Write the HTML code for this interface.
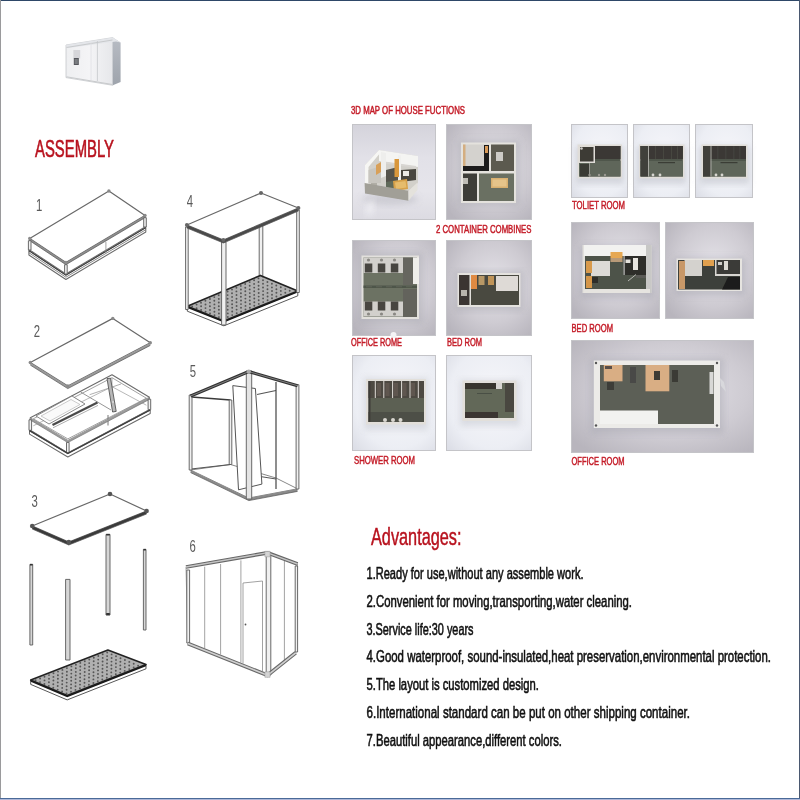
<!DOCTYPE html>
<html><head><meta charset="utf-8">
<style>
html,body{margin:0;padding:0;background:#fff;}
body{width:800px;height:800px;overflow:hidden;position:relative;font-family:"Liberation Sans",sans-serif;}
svg{position:absolute;left:0;top:0;display:block;will-change:transform;}
</style></head>
<body>
<svg width="800" height="800" viewBox="0 0 800 800">
<defs>
  <filter id="bl2" x="-10%" y="-10%" width="120%" height="120%"><feGaussianBlur stdDeviation="0.45"/></filter>
  <linearGradient id="hF" x1="0" y1="0" x2="1" y2="0">
    <stop offset="0" stop-color="#eeeff1"/><stop offset="0.5" stop-color="#f4f4f6"/><stop offset="1" stop-color="#e6e7ea"/>
  </linearGradient>
  <linearGradient id="hS" x1="0" y1="0" x2="0" y2="1">
    <stop offset="0" stop-color="#b8bcc4"/><stop offset="1" stop-color="#9ea4ac"/>
  </linearGradient>
  <filter id="sh" x="-30%" y="-30%" width="160%" height="160%"><feGaussianBlur stdDeviation="3"/></filter>
  <filter id="bl" x="-10%" y="-10%" width="120%" height="120%"><feGaussianBlur stdDeviation="0.6"/></filter>
  <pattern id="dots" x="0" y="0" width="5" height="5" patternUnits="userSpaceOnUse">
    <rect width="5" height="5" fill="#9c9c9c"/>
    <circle cx="2.5" cy="2.5" r="1" fill="#5a5a5a"/>
  </pattern>
  <linearGradient id="gP" x1="0" y1="0" x2="0" y2="1">
    <stop offset="0" stop-color="#d4d3db"/>
    <stop offset="0.35" stop-color="#e2e1e8"/>
    <stop offset="0.7" stop-color="#e6e5eb"/>
    <stop offset="1" stop-color="#dcdbe2"/>
  </linearGradient>
  <radialGradient id="gR" cx="0.55" cy="0.45" r="0.7">
    <stop offset="0" stop-color="#e4e2e8"/>
    <stop offset="0.6" stop-color="#cecbd2"/>
    <stop offset="1" stop-color="#b8b5bd"/>
  </radialGradient>
  <radialGradient id="gL" cx="0.55" cy="0.45" r="0.75">
    <stop offset="0" stop-color="#f6f6fa"/>
    <stop offset="0.7" stop-color="#eceef4"/>
    <stop offset="1" stop-color="#dcdee6"/>
  </radialGradient>
</defs>
<rect width="800" height="800" fill="#fff"/>

<!-- photos -->
<g stroke="#c4c4c8" stroke-width="1">
  <rect x="352.5" y="124.5" width="83" height="95" fill="url(#gP)"/>
  <rect x="446.5" y="124.5" width="85" height="95" fill="url(#gR)"/>
  <rect x="352.5" y="240.5" width="83" height="95" fill="url(#gR)"/>
  <rect x="446.5" y="240.5" width="85" height="95" fill="url(#gR)"/>
  <rect x="352.5" y="355.5" width="83" height="95" fill="url(#gL)"/>
  <rect x="446.5" y="355.5" width="85" height="95" fill="url(#gL)"/>
  <rect x="571.5" y="124.5" width="56" height="73" fill="url(#gL)"/>
  <rect x="633.5" y="124.5" width="56" height="73" fill="url(#gL)"/>
  <rect x="695.5" y="124.5" width="57" height="73" fill="url(#gL)"/>
  <rect x="571.5" y="222.5" width="88" height="96" fill="url(#gR)"/>
  <rect x="665.5" y="222.5" width="88" height="96" fill="url(#gR)"/>
  <rect x="571.5" y="340.5" width="182" height="112" fill="url(#gR)"/>
</g>
<g filter="url(#bl)">
<ellipse cx="390" cy="199" rx="28" ry="6" fill="#b8b8c0" opacity="0.5" filter="url(#sh)"/>
<polygon points="368,203 374,199 372,214 366,216" fill="#f4f4f8" opacity="0.8" filter="url(#sh)"/>
<polygon points="365,165 379,150 418,156 418,183 409,191 365,183" fill="#d2d0ca" />
<polygon points="379,150 418,156 418,167 379,161" fill="#f4f4f2" />
<polygon points="381,161 416,166 416,168 381,163" fill="#d8d6d2" />
<polygon points="365,165 379,150 381,152 368.5,167 368.5,188 365,188" fill="#f6f6f4" />
<polygon points="381,152 386,153 386,176 381,178" fill="#eeeeec" />
<polygon points="398,155 401,155.5 401,183 398,184" fill="#f0f0ee" />
<polygon points="368.5,170 381,166 381,183 368.5,183" fill="#c8c6c0" />
<polygon points="386,170 398,167 398,183 386,186" fill="#55534c" />
<polygon points="401,170 416,169 416,180 401,182" fill="#48463f" />
<polygon points="386,182 398,180 398,190 386,188" fill="#606a5a" />
<rect x="394.5" y="159" width="4.5" height="18.0" fill="#d9973a" />
<polygon points="376,165 381,162 381,172 376,175" fill="#d8a058" />
<polygon points="393,181 407,179 408,189 394,191" fill="#d6a048" />
<polygon points="395,182.5 405.5,181 406.5,187.5 396,189" fill="#e6bc6c" />
<rect x="403" y="171" width="6.0" height="5.0" fill="#ecebe6" />
<rect x="371" y="183" width="6.0" height="5.0" fill="#b0aea6" />
<polygon points="364.6,183 408.5,190.7 408.5,200.8 365,193.5" fill="#a19f97" />
<polygon points="408.5,190.7 417.5,182.5 417.5,190 408.5,200.8" fill="#e4e2dc" />
</g>
<g filter="url(#bl)">
<rect x="458" y="140" width="62" height="66" fill="#b4b4ba" opacity="0.5" filter="url(#sh)"/>
<rect x="461" y="142.5" width="55.0" height="60.5" fill="#e4e2dd" />
<rect x="463" y="144.5" width="26.0" height="26.5" fill="#d4d2ce" />
<rect x="463" y="144.5" width="2.5" height="26.5" fill="#d4ae80" />
<rect x="484" y="145" width="5.0" height="26.0" fill="#1c1c1c" />
<rect x="463" y="166" width="26.0" height="5.0" fill="#1c1c1c" />
<rect x="485" y="146" width="3.0" height="7.0" fill="#d89a58" />
<rect x="491" y="144.5" width="23.0" height="26.5" fill="#5c5a50" />
<rect x="496" y="152" width="7.0" height="9.0" fill="#cdcbc6" />
<rect x="463" y="173.5" width="14.0" height="27.5" fill="#3e3c38" />
<rect x="463" y="178" width="5.0" height="6.0" fill="#bfbdb6" />
<rect x="479" y="173.5" width="35.0" height="27.5" fill="#6a7062" />
<rect x="491" y="178" width="17.0" height="10.0" fill="#d9b070" />
<rect x="492.5" y="179.5" width="14.0" height="7.0" fill="#e6c48a" />
</g>
<g filter="url(#bl)">
<rect x="358" y="252" width="65" height="72" fill="#a8a8b0" opacity="0.45" filter="url(#sh)"/>
<rect x="361.5" y="255.5" width="57.5" height="63.5" fill="#e2e0dc" />
<rect x="363.5" y="257.5" width="53.5" height="59.5" fill="#6c7264" />
<rect x="403" y="257.5" width="10.0" height="27.5" fill="#66665e" />
<rect x="403" y="289" width="14.0" height="28.0" fill="#64645c" />
<rect x="363.5" y="257.5" width="39.5" height="15.5" fill="#d2d0cc" />
<rect x="363.5" y="301.5" width="39.5" height="15.0" fill="#d2d0cc" />
<rect x="364.8" y="263.5" width="7.5" height="9.0" fill="#46443f" />
<rect x="364.8" y="301.5" width="7.5" height="9.0" fill="#46443f" />
<circle cx="368.5" cy="260" r="1.6" fill="#8a8884"/>
<circle cx="368.5" cy="314" r="1.6" fill="#8a8884"/>
<rect x="377.8" y="263.5" width="7.5" height="9.0" fill="#46443f" />
<rect x="377.8" y="301.5" width="7.5" height="9.0" fill="#46443f" />
<circle cx="381.5" cy="260" r="1.6" fill="#8a8884"/>
<circle cx="381.5" cy="314" r="1.6" fill="#8a8884"/>
<rect x="390.8" y="263.5" width="7.5" height="9.0" fill="#46443f" />
<rect x="390.8" y="301.5" width="7.5" height="9.0" fill="#46443f" />
<circle cx="394.5" cy="260" r="1.6" fill="#8a8884"/>
<circle cx="394.5" cy="314" r="1.6" fill="#8a8884"/>
<rect x="413" y="257.5" width="6.0" height="26.5" fill="#efeeea" />
<rect x="363.5" y="285.5" width="53.5" height="2.5" fill="#4e5448" />
<rect x="366" y="286.2" width="6.0" height="1.1" fill="#5e6458" />
<rect x="376" y="286.2" width="6.0" height="1.1" fill="#5e6458" />
<rect x="386" y="286.2" width="6.0" height="1.1" fill="#5e6458" />
<rect x="396" y="286.2" width="6.0" height="1.1" fill="#5e6458" />
<rect x="406" y="286.2" width="6.0" height="1.1" fill="#5e6458" />
<circle cx="393.5" cy="335" r="3" fill="#f4f4f6"/>
</g>
<g filter="url(#bl)">
<rect x="455" y="271" width="68" height="40" fill="#a8a8b0" opacity="0.45" filter="url(#sh)"/>
<rect x="457.5" y="273" width="63.0" height="34.0" fill="#e4e2de" />
<rect x="459" y="275" width="60.0" height="30.0" fill="#4a4a40" />
<rect x="459" y="275" width="10.5" height="30.0" fill="#3a3632" />
<rect x="461" y="290" width="6.0" height="6.0" fill="#b8b4ac" />
<rect x="469.5" y="275" width="1.5" height="30.0" fill="#e0deda" />
<rect x="471" y="275" width="6.0" height="14.0" fill="#e08a42" />
<rect x="478.5" y="276" width="6.0" height="9.0" fill="#b89866" />
<rect x="488" y="276" width="6.0" height="9.0" fill="#c09458" />
<rect x="496" y="276" width="22.0" height="15.0" fill="#dedad6" />
</g>
<g filter="url(#bl)">
<rect x="364" y="378" width="64" height="52" fill="#c0c2ca" opacity="0.45" filter="url(#sh)"/>
<rect x="366" y="379" width="60.0" height="45.5" fill="#e2dfda" />
<rect x="368.5" y="381" width="55.5" height="41.0" fill="#5c6052" />
<rect x="368.5" y="381" width="55.5" height="17.0" fill="#4e4842" />
<rect x="368.5" y="412" width="55.5" height="10.0" fill="#4e5046" />
<rect x="368.5" y="381" width="2.0" height="41.0" fill="#3e3c38" />
<rect x="377" y="383" width="4.0" height="13.0" fill="#5e5650" />
<rect x="385.5" y="383" width="4.0" height="13.0" fill="#5e5650" />
<rect x="394" y="383" width="4.0" height="13.0" fill="#5e5650" />
<rect x="402.5" y="383" width="4.0" height="13.0" fill="#5e5650" />
<rect x="411" y="383" width="4.0" height="13.0" fill="#5e5650" />
<rect x="374.8" y="381" width="1.0" height="17.0" fill="#e0ddd8" />
<rect x="383.3" y="381" width="1.0" height="17.0" fill="#e0ddd8" />
<rect x="392.1" y="381" width="1.0" height="17.0" fill="#e0ddd8" />
<rect x="401.1" y="381" width="1.0" height="17.0" fill="#e0ddd8" />
<rect x="409.5" y="381" width="1.0" height="17.0" fill="#e0ddd8" />
<rect x="417.8" y="381" width="1.0" height="17.0" fill="#e0ddd8" />
<circle cx="385" cy="420" r="2" fill="#d8d6d0"/>
<circle cx="393" cy="420" r="2" fill="#d8d6d0"/>
<circle cx="400.5" cy="420" r="2" fill="#d8d6d0"/>
</g>
<g filter="url(#bl)">
<rect x="460" y="380" width="60" height="46" fill="#c0c2ca" opacity="0.45" filter="url(#sh)"/>
<rect x="462.5" y="380.5" width="54.0" height="40.5" fill="#e2dfda" />
<rect x="465" y="383" width="49.0" height="35.0" fill="#626858" />
<rect x="465" y="383" width="35.0" height="6.0" fill="#38342e" />
<rect x="465" y="412" width="33.0" height="6.0" fill="#3a3630" />
<rect x="505" y="383" width="9.0" height="29.0" fill="#4a4640" />
<rect x="496" y="383" width="6.0" height="6.0" fill="#d8d6d2" />
<rect x="477" y="393" width="15.0" height="1.0" fill="#4a5044" />
</g>
<g filter="url(#bl)">
<rect x="575.6" y="146" width="48.4" height="38" fill="#b8bac2" opacity="0.5" filter="url(#sh)"/>
<rect x="577.6" y="144.5" width="44.4" height="33.8" fill="#e0ddd8" />
<rect x="579.1" y="146" width="41.4" height="30.5" fill="#50564c" />
<rect x="579.1" y="146" width="41.4" height="13.0" fill="#3a3934" />
<rect x="579.1" y="161" width="41.4" height="15.5" fill="#5e665a" />
<rect x="637" y="146" width="49.4" height="38" fill="#b8bac2" opacity="0.5" filter="url(#sh)"/>
<rect x="639" y="144.5" width="45.4" height="33.8" fill="#e0ddd8" />
<rect x="640.5" y="146" width="42.4" height="30.5" fill="#50564c" />
<rect x="640.5" y="146" width="42.4" height="13.0" fill="#3a3934" />
<rect x="640.5" y="161" width="42.4" height="15.5" fill="#5e665a" />
<rect x="699.5" y="146" width="50.0" height="38" fill="#b8bac2" opacity="0.5" filter="url(#sh)"/>
<rect x="701.5" y="144.5" width="46.0" height="33.8" fill="#e0ddd8" />
<rect x="703.0" y="146" width="43.0" height="30.5" fill="#50564c" />
<rect x="703.0" y="146" width="43.0" height="13.0" fill="#3a3934" />
<rect x="703.0" y="161" width="43.0" height="15.5" fill="#5e665a" />
<rect x="640.5" y="146" width="7.5" height="30.5" fill="#403f3a" />
<rect x="648" y="146" width="1.0" height="30.5" fill="#a8a8a2" />
<rect x="658" y="162" width="17.0" height="1.2" fill="#3a3c36" />
<rect x="655" y="146" width="0.8" height="13.0" fill="#4a4a44" />
<rect x="663" y="146" width="0.8" height="13.0" fill="#4a4a44" />
<rect x="671" y="146" width="0.8" height="13.0" fill="#4a4a44" />
<rect x="677" y="146" width="0.8" height="13.0" fill="#4a4a44" />
<rect x="703.0" y="146" width="7.5" height="30.5" fill="#403f3a" />
<rect x="710.5" y="146" width="1.0" height="30.5" fill="#a8a8a2" />
<rect x="720.5" y="162" width="17.0" height="1.2" fill="#3a3c36" />
<rect x="717.5" y="146" width="0.8" height="13.0" fill="#4a4a44" />
<rect x="725.5" y="146" width="0.8" height="13.0" fill="#4a4a44" />
<rect x="733.5" y="146" width="0.8" height="13.0" fill="#4a4a44" />
<rect x="739.5" y="146" width="0.8" height="13.0" fill="#4a4a44" />
<rect x="579" y="146" width="16.0" height="17.0" fill="#e0ddd8" />
<rect x="580" y="147" width="13.5" height="14.5" fill="#3c3a36" />
<rect x="580" y="164" width="9.0" height="12.5" fill="#3a3a36" />
<rect x="589" y="163" width="1.0" height="13.5" fill="#9a9a94" />
<circle cx="581.5" cy="148.5" r="1.3" fill="#cfcdc8"/>
<circle cx="653" cy="175" r="1.4" fill="#d8d6d0"/>
<circle cx="660" cy="175" r="1.4" fill="#d8d6d0"/>
<circle cx="716" cy="175" r="1.4" fill="#d8d6d0"/>
<circle cx="722" cy="175" r="1.4" fill="#d8d6d0"/>
<circle cx="589.5" cy="175" r="1.2" fill="#9a9890"/>
<circle cx="599" cy="175" r="1.2" fill="#9a9890"/>
<circle cx="605" cy="175" r="1.2" fill="#9a9890"/>
</g>
<g filter="url(#bl)">
<rect x="580" y="246" width="74" height="52" fill="#a8a8b2" opacity="0.5" filter="url(#sh)"/>
<rect x="582.5" y="245" width="69.0" height="48.0" fill="#e2e0dc" />
<rect x="585" y="256" width="63.0" height="33.0" fill="#4e5248" />
<rect x="584" y="245" width="66.0" height="11.0" fill="#f2f2f0" />
<rect x="646" y="245" width="5.5" height="48.0" fill="#c8c8c6" />
<rect x="591" y="261" width="19.0" height="15.0" fill="#dcdad6" />
<rect x="610.5" y="252" width="12.0" height="6.0" fill="#e6a852" />
<rect x="610.5" y="258" width="12.0" height="4.0" fill="#b89a78" />
<rect x="586" y="261" width="6.0" height="12.0" fill="#d89a4c" />
<rect x="586" y="276" width="6.0" height="12.0" fill="#d4964a" />
<rect x="592" y="277" width="6.0" height="6.0" fill="#2e2e2c" />
<rect x="623.6" y="256" width="22.4" height="19.0" fill="#2e2e2c" />
<rect x="623.6" y="256" width="1.0" height="19.0" fill="#d8d8d6" />
<rect x="625.5" y="259.5" width="5.0" height="3.5" fill="#e4e2dc" />
<rect x="633" y="258" width="5.0" height="12.0" fill="#e8e6e0" />
<line x1="628" y1="281" x2="636" y2="274.5" stroke="#b8b8b4" stroke-width="1"/>
<rect x="636" y="275" width="10.0" height="3.0" fill="#5a5a56" />
<rect x="584" y="289" width="66.0" height="4.0" fill="#e6e4e0" />
<rect x="674" y="258" width="71" height="37" fill="#a8a8b2" opacity="0.5" filter="url(#sh)"/>
<rect x="676.5" y="258.5" width="65.5" height="32.5" fill="#e6e4e0" />
<rect x="678" y="260" width="62.0" height="29.5" fill="#3e403a" />
<rect x="684.5" y="260" width="17.5" height="16.0" fill="#d4d2ce" />
<rect x="703" y="260" width="11.0" height="6.0" fill="#e0a050" />
<rect x="679" y="261" width="6.0" height="28.0" fill="#c89868" />
<rect x="716" y="260" width="24.0" height="14.0" fill="#3a3a38" />
<rect x="716" y="274" width="24.0" height="2.0" fill="#d8d6d2" />
<rect x="715" y="260" width="1.5" height="16.0" fill="#d8d6d2" />
<rect x="724" y="261" width="4.0" height="9.0" fill="#dcdad4" />
<rect x="718" y="262" width="4.0" height="3.0" fill="#cfcdc8" />
<polygon points="722,289.5 728,277 740,277 740,289.5" fill="#1e1e1c" />
</g>
<g filter="url(#bl)">
<rect x="590" y="358" width="134" height="76" fill="#a8a8b2" opacity="0.45" filter="url(#sh)"/>
<rect x="593.8" y="360.5" width="126.2" height="67.5" fill="#ecebe8" />
<rect x="600" y="365" width="114.0" height="59.0" fill="#5c5e56" />
<rect x="600" y="410.5" width="58.0" height="13.5" fill="#f2f2f0" />
<rect x="603.8" y="365" width="18.7" height="16.3" fill="#d9ae84" />
<rect x="645.5" y="365" width="23.8" height="26.3" fill="#d9ae84" />
<rect x="654" y="371" width="6.0" height="9.0" fill="#3c3a36" />
<rect x="607" y="382" width="7.0" height="8.0" fill="#3e3c38" />
<rect x="630" y="367" width="6.0" height="16.0" fill="#4a4a46" />
<rect x="672" y="370" width="6.0" height="12.0" fill="#3a3a36" />
<rect x="709.5" y="372" width="4.0" height="22.0" fill="#d8d8d6" />
<polygon points="720,378 724,382 726,392 721,386" fill="#d8d8dc"/>
<rect x="605" y="366" width="7.0" height="3.0" fill="#5a5048" />
</g>
<g fill="#555">
<circle cx="596" cy="363" r="1.2"/>
<circle cx="717" cy="363" r="1.2"/>
<circle cx="596" cy="425.5" r="1.2"/>
<circle cx="717" cy="425.5" r="1.2"/>
</g>


<!-- house icon -->
<g filter="url(#bl2)">
  <polygon points="66,45 112.8,37.6 112.8,85.3 66,77.6" fill="url(#hF)" stroke="#c4c6ca" stroke-width="0.8"/>
  <polygon points="112.8,37.6 120.6,42.6 120.6,82 112.8,85.3" fill="url(#hS)"/>
  <polygon points="66,45 112.8,37.6 120.6,42.6 116,41.5 68,48" fill="#e4e6ea"/>
  <polyline points="66.5,47.5 112.5,40" fill="none" stroke="#c8cacc" stroke-width="1"/>
  <rect x="73.4" y="50" width="6.8" height="8.5" fill="#d6d6da"/>
  <rect x="73.8" y="58" width="5" height="7" fill="#55575c"/>
  <rect x="74.6" y="59" width="3.2" height="5" fill="#7a7c80"/>
  <line x1="97.4" y1="41" x2="97.4" y2="81" stroke="#c4c6ca" stroke-width="0.8"/>
  <line x1="91" y1="42" x2="91" y2="80" stroke="#e0e0e4" stroke-width="0.8"/>
  <line x1="66.5" y1="76.8" x2="112.5" y2="84.5" stroke="#c8cacc" stroke-width="1"/>
</g>

<!-- assembly drawings -->
<g stroke-linejoin="round">
<polygon points="28.9,250.5 65.9,275.0 145.8,227.5 145.8,232.0 65.9,279.5 28.9,255.0" fill="#fff" stroke="#6a6a6a" stroke-width="1.05"/>
<polyline points="28.9,250.5 65.9,275.0 145.8,227.5" fill="none" stroke="#3c3c3c" stroke-width="1.4"/>
<polyline points="28.9,252.7 65.9,277.2 145.8,229.7" fill="none" stroke="#6a6a6a" stroke-width="0.8"/>
<polygon points="29.7,238.5 65.9,262.5 145.0,215.5 145.0,227.0 65.9,274.0 29.7,250.0" fill="#fff" stroke="#6a6a6a" stroke-width="1.05"/>
<polygon points="29.7,238.5 108.9,191.0 145.0,215.5 65.9,262.5" fill="#fff" stroke="#686868" stroke-width="1.2"/>
<polygon points="29.7,238.5 65.9,262.5 145.0,215.5 145.0,217.7 65.9,264.7 29.7,240.7" fill="#8e8e8e"/>
<polyline points="29.7,240.7 65.9,264.7 145.0,217.7" fill="none" stroke="#555" stroke-width="0.7"/>
<circle cx="29.7" cy="238.5" r="1.7" fill="#8a8a8a"/>
<circle cx="108.9" cy="191.0" r="1.7" fill="#8a8a8a"/>
<circle cx="145.0" cy="215.5" r="1.7" fill="#8a8a8a"/>
<circle cx="65.9" cy="262.5" r="1.7" fill="#8a8a8a"/>
<rect x="28.4" y="240.7" width="2.6" height="9.3" fill="#f0f0f0" stroke="#626262" stroke-width="0.95"/>
<rect x="64.6" y="264.7" width="2.6" height="9.3" fill="#f0f0f0" stroke="#626262" stroke-width="0.95"/>
<rect x="143.7" y="217.7" width="2.6" height="9.3" fill="#f0f0f0" stroke="#626262" stroke-width="0.95"/>
<line x1="105.9" y1="241.8" x2="105.9" y2="253" stroke="#8a8a8a" stroke-width="0.8"/>
<rect x="259.2" y="205.0" width="3.6" height="71.5" fill="#f0f0f0" stroke="#626262" stroke-width="0.95"/>
<polygon points="187.3,306.3 223.9,320.9 297.8,290.9 297.8,295.8 223.9,325.8 187.3,311.2" fill="#fff" stroke="#444" stroke-width="0.9"/>
<clipPath id="fc1"><polygon points="187.3,306.3 260.4,275.4 297.8,290.9 223.9,320.9"/></clipPath>
<polygon points="187.3,306.3 260.4,275.4 297.8,290.9 223.9,320.9" fill="#b0b0b0"/>
<g fill="#555" clip-path="url(#fc1)"><circle cx="192.2" cy="306.4" r="0.95"/><circle cx="196.6" cy="308.2" r="0.95"/><circle cx="201.1" cy="310.0" r="0.95"/><circle cx="205.6" cy="311.8" r="0.95"/><circle cx="210.0" cy="313.5" r="0.95"/><circle cx="214.5" cy="315.3" r="0.95"/><circle cx="218.9" cy="317.1" r="0.95"/><circle cx="223.4" cy="318.9" r="0.95"/><circle cx="196.6" cy="304.6" r="0.95"/><circle cx="201.1" cy="306.3" r="0.95"/><circle cx="205.5" cy="308.1" r="0.95"/><circle cx="210.0" cy="309.9" r="0.95"/><circle cx="214.4" cy="311.7" r="0.95"/><circle cx="218.9" cy="313.5" r="0.95"/><circle cx="223.4" cy="315.2" r="0.95"/><circle cx="227.8" cy="317.0" r="0.95"/><circle cx="201.0" cy="302.7" r="0.95"/><circle cx="205.5" cy="304.5" r="0.95"/><circle cx="209.9" cy="306.3" r="0.95"/><circle cx="214.4" cy="308.0" r="0.95"/><circle cx="218.9" cy="309.8" r="0.95"/><circle cx="223.3" cy="311.6" r="0.95"/><circle cx="227.8" cy="313.4" r="0.95"/><circle cx="232.2" cy="315.1" r="0.95"/><circle cx="205.4" cy="300.8" r="0.95"/><circle cx="209.9" cy="302.6" r="0.95"/><circle cx="214.4" cy="304.4" r="0.95"/><circle cx="218.8" cy="306.2" r="0.95"/><circle cx="223.3" cy="307.9" r="0.95"/><circle cx="227.7" cy="309.7" r="0.95"/><circle cx="232.2" cy="311.5" r="0.95"/><circle cx="236.7" cy="313.3" r="0.95"/><circle cx="209.9" cy="299.0" r="0.95"/><circle cx="214.3" cy="300.7" r="0.95"/><circle cx="218.8" cy="302.5" r="0.95"/><circle cx="223.2" cy="304.3" r="0.95"/><circle cx="227.7" cy="306.1" r="0.95"/><circle cx="232.2" cy="307.8" r="0.95"/><circle cx="236.6" cy="309.6" r="0.95"/><circle cx="241.1" cy="311.4" r="0.95"/><circle cx="214.3" cy="297.1" r="0.95"/><circle cx="218.8" cy="298.9" r="0.95"/><circle cx="223.2" cy="300.6" r="0.95"/><circle cx="227.7" cy="302.4" r="0.95"/><circle cx="232.1" cy="304.2" r="0.95"/><circle cx="236.6" cy="306.0" r="0.95"/><circle cx="241.0" cy="307.8" r="0.95"/><circle cx="245.5" cy="309.5" r="0.95"/><circle cx="218.7" cy="295.2" r="0.95"/><circle cx="223.2" cy="297.0" r="0.95"/><circle cx="227.6" cy="298.8" r="0.95"/><circle cx="232.1" cy="300.6" r="0.95"/><circle cx="236.5" cy="302.3" r="0.95"/><circle cx="241.0" cy="304.1" r="0.95"/><circle cx="245.5" cy="305.9" r="0.95"/><circle cx="249.9" cy="307.7" r="0.95"/><circle cx="223.1" cy="293.4" r="0.95"/><circle cx="227.6" cy="295.1" r="0.95"/><circle cx="232.1" cy="296.9" r="0.95"/><circle cx="236.5" cy="298.7" r="0.95"/><circle cx="241.0" cy="300.5" r="0.95"/><circle cx="245.4" cy="302.2" r="0.95"/><circle cx="249.9" cy="304.0" r="0.95"/><circle cx="254.3" cy="305.8" r="0.95"/><circle cx="227.6" cy="291.5" r="0.95"/><circle cx="232.0" cy="293.3" r="0.95"/><circle cx="236.5" cy="295.0" r="0.95"/><circle cx="240.9" cy="296.8" r="0.95"/><circle cx="245.4" cy="298.6" r="0.95"/><circle cx="249.8" cy="300.4" r="0.95"/><circle cx="254.3" cy="302.2" r="0.95"/><circle cx="258.8" cy="303.9" r="0.95"/><circle cx="232.0" cy="289.6" r="0.95"/><circle cx="236.4" cy="291.4" r="0.95"/><circle cx="240.9" cy="293.2" r="0.95"/><circle cx="245.4" cy="294.9" r="0.95"/><circle cx="249.8" cy="296.7" r="0.95"/><circle cx="254.3" cy="298.5" r="0.95"/><circle cx="258.7" cy="300.3" r="0.95"/><circle cx="263.2" cy="302.1" r="0.95"/><circle cx="236.4" cy="287.7" r="0.95"/><circle cx="240.9" cy="289.5" r="0.95"/><circle cx="245.3" cy="291.3" r="0.95"/><circle cx="249.8" cy="293.1" r="0.95"/><circle cx="254.2" cy="294.9" r="0.95"/><circle cx="258.7" cy="296.6" r="0.95"/><circle cx="263.1" cy="298.4" r="0.95"/><circle cx="267.6" cy="300.2" r="0.95"/><circle cx="240.8" cy="285.9" r="0.95"/><circle cx="245.3" cy="287.7" r="0.95"/><circle cx="249.7" cy="289.4" r="0.95"/><circle cx="254.2" cy="291.2" r="0.95"/><circle cx="258.7" cy="293.0" r="0.95"/><circle cx="263.1" cy="294.8" r="0.95"/><circle cx="267.6" cy="296.5" r="0.95"/><circle cx="272.0" cy="298.3" r="0.95"/><circle cx="245.2" cy="284.0" r="0.95"/><circle cx="249.7" cy="285.8" r="0.95"/><circle cx="254.2" cy="287.6" r="0.95"/><circle cx="258.6" cy="289.3" r="0.95"/><circle cx="263.1" cy="291.1" r="0.95"/><circle cx="267.5" cy="292.9" r="0.95"/><circle cx="272.0" cy="294.7" r="0.95"/><circle cx="276.4" cy="296.5" r="0.95"/><circle cx="249.7" cy="282.1" r="0.95"/><circle cx="254.1" cy="283.9" r="0.95"/><circle cx="258.6" cy="285.7" r="0.95"/><circle cx="263.0" cy="287.5" r="0.95"/><circle cx="267.5" cy="289.3" r="0.95"/><circle cx="272.0" cy="291.0" r="0.95"/><circle cx="276.4" cy="292.8" r="0.95"/><circle cx="280.9" cy="294.6" r="0.95"/><circle cx="254.1" cy="280.3" r="0.95"/><circle cx="258.5" cy="282.0" r="0.95"/><circle cx="263.0" cy="283.8" r="0.95"/><circle cx="267.5" cy="285.6" r="0.95"/><circle cx="271.9" cy="287.4" r="0.95"/><circle cx="276.4" cy="289.2" r="0.95"/><circle cx="280.8" cy="290.9" r="0.95"/><circle cx="285.3" cy="292.7" r="0.95"/><circle cx="258.5" cy="278.4" r="0.95"/><circle cx="263.0" cy="280.2" r="0.95"/><circle cx="267.4" cy="282.0" r="0.95"/><circle cx="271.9" cy="283.7" r="0.95"/><circle cx="276.3" cy="285.5" r="0.95"/><circle cx="280.8" cy="287.3" r="0.95"/><circle cx="285.3" cy="289.1" r="0.95"/><circle cx="289.7" cy="290.8" r="0.95"/><circle cx="262.9" cy="276.5" r="0.95"/><circle cx="267.4" cy="278.3" r="0.95"/><circle cx="271.8" cy="280.1" r="0.95"/><circle cx="276.3" cy="281.9" r="0.95"/><circle cx="280.8" cy="283.6" r="0.95"/><circle cx="285.2" cy="285.4" r="0.95"/><circle cx="289.7" cy="287.2" r="0.95"/><circle cx="294.1" cy="289.0" r="0.95"/></g>
<polygon points="187.3,306.3 260.4,275.4 297.8,290.9 223.9,320.9" fill="none" stroke="#222" stroke-width="1.6" stroke-linejoin="round"/>
<polygon points="187.3,306.3 223.9,320.9 297.8,290.9 297.8,292.5 223.9,322.5 187.3,307.9" fill="#1a1a1a"/>
<rect x="185.6" y="227.0" width="2.6" height="82.5" fill="#f0f0f0" stroke="#626262" stroke-width="0.95"/>
<rect x="296.7" y="210.0" width="2.6" height="82.5" fill="#f0f0f0" stroke="#626262" stroke-width="0.95"/>
<rect x="221.6" y="242.0" width="4.4" height="83.0" fill="#f0f0f0" stroke="#626262" stroke-width="0.95"/>
<polygon points="186.9,225.0 261.0,193.0 298.4,208.0 223.4,240.0" fill="#fff" stroke="#686868" stroke-width="1.2"/>
<polygon points="186.9,225.0 223.4,240.0 298.4,208.0 298.4,211.0 223.4,243.0 186.9,228.0" fill="#4a4a4a"/>
<polyline points="186.9,228.0 223.4,243.0 298.4,211.0" fill="none" stroke="#555" stroke-width="0.7"/>
<circle cx="186.9" cy="225.0" r="2.0" fill="#666"/>
<circle cx="261.0" cy="193.0" r="2.0" fill="#666"/>
<circle cx="298.4" cy="208.0" r="2.0" fill="#666"/>
<circle cx="223.4" cy="240.0" r="2.0" fill="#666"/>
<polygon points="30.3,417.8 112.0,374.7 149.4,397.2 149.4,409.7 67.8,452.9 30.3,430.3" fill="#fff" stroke="#6a6a6a" stroke-width="1.05"/>
<polygon points="33.3,418.8 112.0,377.7 146.4,398.2 67.8,438.9" fill="#fff" stroke="#8a8a8a" stroke-width="0.8"/>
<polyline points="33.3,425.8 112.0,386.7 146.4,405.2" fill="none" stroke="#9a9a9a" stroke-width="0.7"/>
<line x1="112.0" y1="377.7" x2="112.0" y2="386.7" stroke="#9a9a9a" stroke-width="0.7"/>
<polyline points="80.6,392 111,410" fill="none" stroke="#8a8a8a" stroke-width="0.9"/>
<polyline points="89.6,394.7 121,384" fill="none" stroke="#9a9a9a" stroke-width="0.8"/>
<polygon points="36,416 72,396 85,404 49,424" fill="#fff" stroke="#7a7a7a" stroke-width="0.9"/>
<polygon points="41,416 71,399.5 80,404.5 50,421" fill="#fafafa" stroke="#aaa" stroke-width="0.6"/>
<line x1="52.5" y1="425" x2="97.5" y2="402.6" stroke="#4a4a4a" stroke-width="2.2"/>
<line x1="53" y1="427.8" x2="98" y2="405.4" stroke="#999" stroke-width="0.8"/>
<polygon points="107,378.6 110.5,378.2 116.2,411.4 112.6,412" fill="#b8b8b8" stroke="#555" stroke-width="0.9"/>
<circle cx="113" cy="402" r="0.7" fill="#fff"/>
<line x1="108" y1="415" x2="108" y2="425.5" stroke="#777" stroke-width="1"/>
<polygon points="30.3,417.8 67.8,440.4 149.4,397.2 149.4,409.7 67.8,452.9 30.3,430.3" fill="none" stroke="#7a7a7a" stroke-width="0.8"/>
<polygon points="30.3,417.8 67.8,440.4 149.4,397.2 149.4,399.4 67.8,442.6 30.3,420.0" fill="#9a9a9a"/>
<polyline points="30.3,420.0 67.8,442.6 149.4,399.4" fill="none" stroke="#777" stroke-width="0.7"/>
<rect x="29.0" y="419.8" width="2.6" height="10.5" fill="#f0f0f0" stroke="#626262" stroke-width="0.95"/>
<rect x="66.5" y="442.4" width="2.6" height="10.5" fill="#f0f0f0" stroke="#626262" stroke-width="0.95"/>
<rect x="148.1" y="399.2" width="2.6" height="10.5" fill="#f0f0f0" stroke="#626262" stroke-width="0.95"/>
<polygon points="29.5,430.6 67.8,453.5 150.2,410.0 150.2,413.5 67.8,457.0 29.5,434.1" fill="#fff" stroke="#6a6a6a" stroke-width="1.05"/>
<polyline points="29.5,430.6 67.8,453.5 150.2,410.0" fill="none" stroke="#3c3c3c" stroke-width="1.3"/>
<polygon points="30.3,362.5 112.8,318.4 150.3,342.8 67.8,386.0" fill="#fff" stroke="#686868" stroke-width="1.2"/>
<polygon points="30.3,362.5 67.8,386.0 150.3,342.8 150.3,345.4 67.8,388.6 30.3,365.1" fill="#9a9a9a"/>
<polyline points="30.3,365.1 67.8,388.6 150.3,345.4" fill="none" stroke="#555" stroke-width="0.7"/>
<circle cx="30.3" cy="362.5" r="1.7" fill="#8a8a8a"/>
<circle cx="112.8" cy="318.4" r="1.7" fill="#8a8a8a"/>
<circle cx="150.3" cy="342.8" r="1.7" fill="#8a8a8a"/>
<circle cx="67.8" cy="386.0" r="1.7" fill="#8a8a8a"/>
<polygon points="190.6,470.0 230.5,464.5 276.0,478.0 297.5,488.8 248.8,498.0" fill="#fff" stroke="#6a6a6a" stroke-width="0.8"/>
<polygon points="190.6,470.0 248.8,498.0 297.5,488.8 297.5,491.4 248.8,500.6 190.6,472.6" fill="#8a8a8a"/>
<polyline points="190.6,472.6 248.8,500.6 297.5,491.4" fill="none" stroke="#555" stroke-width="0.7"/>
<polyline points="191.6,397.0 230.5,400.0" fill="none" stroke="#3a3a3a" stroke-width="1.4"/>
<rect x="229.2" y="400.0" width="2.6" height="64.5" fill="#f0f0f0" stroke="#626262" stroke-width="0.95"/>
<line x1="230.5" y1="464.5" x2="191" y2="469" stroke="#555" stroke-width="1"/>
<line x1="257" y1="394.5" x2="276" y2="390.5" stroke="#555" stroke-width="1.1"/>
<line x1="276" y1="382" x2="276" y2="489" stroke="#444" stroke-width="1.2"/>
<line x1="257" y1="476" x2="276" y2="479" stroke="#555" stroke-width="1"/>
<polygon points="232.8,385.6 255.4,388.5 261.9,484.1 238.5,489.8" fill="#fff" stroke="#555" stroke-width="1"/>
<rect x="189.2" y="395.0" width="2.8" height="75.0" fill="#f0f0f0" stroke="#626262" stroke-width="0.95"/>
<rect x="296.1" y="384.7" width="2.8" height="104.3" fill="#f0f0f0" stroke="#626262" stroke-width="0.95"/>
<rect x="246.3" y="371.0" width="5.4" height="128.0" fill="#e4e4e4" stroke="#626262" stroke-width="0.95"/>
<polyline points="190.6,396.0 248.8,371.6 297.5,385.7" fill="none" stroke="#333" stroke-width="3.2"/>
<polyline points="190.6,396.0 248.8,371.6 297.5,385.7" fill="none" stroke="#8a8a8a" stroke-width="0.9"/>
<circle cx="248.8" cy="371.6" r="2.2" fill="#aaa"/>
<rect x="29.9" y="564.4" width="2.8" height="80.6" fill="#d6d6d6" stroke="#626262" stroke-width="0.95"/>
<rect x="65.6" y="579.4" width="4.4" height="80.6" fill="#d6d6d6" stroke="#626262" stroke-width="0.95"/>
<rect x="106.0" y="534.4" width="4.0" height="80.6" fill="#d6d6d6" stroke="#626262" stroke-width="0.95"/>
<rect x="143.4" y="549.4" width="2.6" height="80.6" fill="#d6d6d6" stroke="#626262" stroke-width="0.95"/>
<rect x="30.0" y="563.9" width="2.6" height="1.6" fill="#333"/>
<rect x="106.2" y="533.9" width="3.6" height="1.6" fill="#333"/>
<rect x="143.5" y="548.9" width="2.4" height="1.6" fill="#333"/>
<rect x="106.2" y="613" width="3.6" height="2.2" fill="#333"/>
<polygon points="32.2,526.0 110.0,494.0 146.6,511.0 68.8,542.0" fill="#fff" stroke="#686868" stroke-width="1.2"/>
<polygon points="32.2,526.0 68.8,542.0 146.6,511.0 146.6,514.0 68.8,545.0 32.2,529.0" fill="#3a3a3a"/>
<polyline points="32.2,529.0 68.8,545.0 146.6,514.0" fill="none" stroke="#555" stroke-width="0.7"/>
<circle cx="32.2" cy="526.0" r="2.3" fill="#555"/>
<circle cx="110.0" cy="494.0" r="2.3" fill="#555"/>
<circle cx="146.6" cy="511.0" r="2.3" fill="#555"/>
<circle cx="68.8" cy="542.0" r="2.3" fill="#555"/>
<polygon points="30.7,680.0 67.2,695.5 146.0,664.4 146.0,668.8 67.2,699.9 30.7,684.4" fill="#fff" stroke="#444" stroke-width="0.9"/>
<clipPath id="fc2"><polygon points="30.7,680.0 107.9,650.1 146.0,664.4 67.2,695.5"/></clipPath>
<polygon points="30.7,680.0 107.9,650.1 146.0,664.4 67.2,695.5" fill="#b0b0b0"/>
<g fill="#555" clip-path="url(#fc2)"><circle cx="35.6" cy="680.3" r="0.95"/><circle cx="40.0" cy="682.1" r="0.95"/><circle cx="44.4" cy="684.0" r="0.95"/><circle cx="48.8" cy="685.9" r="0.95"/><circle cx="53.3" cy="687.8" r="0.95"/><circle cx="57.7" cy="689.6" r="0.95"/><circle cx="62.1" cy="691.5" r="0.95"/><circle cx="66.5" cy="693.4" r="0.95"/><circle cx="40.1" cy="678.5" r="0.95"/><circle cx="44.5" cy="680.4" r="0.95"/><circle cx="48.9" cy="682.3" r="0.95"/><circle cx="53.3" cy="684.2" r="0.95"/><circle cx="57.7" cy="686.0" r="0.95"/><circle cx="62.2" cy="687.9" r="0.95"/><circle cx="66.6" cy="689.8" r="0.95"/><circle cx="71.0" cy="691.7" r="0.95"/><circle cx="44.5" cy="676.8" r="0.95"/><circle cx="49.0" cy="678.7" r="0.95"/><circle cx="53.4" cy="680.5" r="0.95"/><circle cx="57.8" cy="682.4" r="0.95"/><circle cx="62.2" cy="684.3" r="0.95"/><circle cx="66.6" cy="686.2" r="0.95"/><circle cx="71.0" cy="688.0" r="0.95"/><circle cx="75.5" cy="689.9" r="0.95"/><circle cx="49.0" cy="675.1" r="0.95"/><circle cx="53.4" cy="676.9" r="0.95"/><circle cx="57.9" cy="678.8" r="0.95"/><circle cx="62.3" cy="680.7" r="0.95"/><circle cx="66.7" cy="682.6" r="0.95"/><circle cx="71.1" cy="684.4" r="0.95"/><circle cx="75.5" cy="686.3" r="0.95"/><circle cx="79.9" cy="688.2" r="0.95"/><circle cx="53.5" cy="673.3" r="0.95"/><circle cx="57.9" cy="675.2" r="0.95"/><circle cx="62.3" cy="677.1" r="0.95"/><circle cx="66.7" cy="679.0" r="0.95"/><circle cx="71.2" cy="680.8" r="0.95"/><circle cx="75.6" cy="682.7" r="0.95"/><circle cx="80.0" cy="684.6" r="0.95"/><circle cx="84.4" cy="686.5" r="0.95"/><circle cx="58.0" cy="671.6" r="0.95"/><circle cx="62.4" cy="673.5" r="0.95"/><circle cx="66.8" cy="675.3" r="0.95"/><circle cx="71.2" cy="677.2" r="0.95"/><circle cx="75.6" cy="679.1" r="0.95"/><circle cx="80.1" cy="681.0" r="0.95"/><circle cx="84.5" cy="682.8" r="0.95"/><circle cx="88.9" cy="684.7" r="0.95"/><circle cx="62.4" cy="669.9" r="0.95"/><circle cx="66.9" cy="671.7" r="0.95"/><circle cx="71.3" cy="673.6" r="0.95"/><circle cx="75.7" cy="675.5" r="0.95"/><circle cx="80.1" cy="677.4" r="0.95"/><circle cx="84.5" cy="679.2" r="0.95"/><circle cx="89.0" cy="681.1" r="0.95"/><circle cx="93.4" cy="683.0" r="0.95"/><circle cx="66.9" cy="668.1" r="0.95"/><circle cx="71.3" cy="670.0" r="0.95"/><circle cx="75.8" cy="671.9" r="0.95"/><circle cx="80.2" cy="673.8" r="0.95"/><circle cx="84.6" cy="675.6" r="0.95"/><circle cx="89.0" cy="677.5" r="0.95"/><circle cx="93.4" cy="679.4" r="0.95"/><circle cx="97.8" cy="681.3" r="0.95"/><circle cx="71.4" cy="666.4" r="0.95"/><circle cx="75.8" cy="668.3" r="0.95"/><circle cx="80.2" cy="670.1" r="0.95"/><circle cx="84.7" cy="672.0" r="0.95"/><circle cx="89.1" cy="673.9" r="0.95"/><circle cx="93.5" cy="675.8" r="0.95"/><circle cx="97.9" cy="677.6" r="0.95"/><circle cx="102.3" cy="679.5" r="0.95"/><circle cx="75.9" cy="664.7" r="0.95"/><circle cx="80.3" cy="666.5" r="0.95"/><circle cx="84.7" cy="668.4" r="0.95"/><circle cx="89.1" cy="670.3" r="0.95"/><circle cx="93.5" cy="672.2" r="0.95"/><circle cx="98.0" cy="674.0" r="0.95"/><circle cx="102.4" cy="675.9" r="0.95"/><circle cx="106.8" cy="677.8" r="0.95"/><circle cx="80.3" cy="662.9" r="0.95"/><circle cx="84.8" cy="664.8" r="0.95"/><circle cx="89.2" cy="666.7" r="0.95"/><circle cx="93.6" cy="668.6" r="0.95"/><circle cx="98.0" cy="670.4" r="0.95"/><circle cx="102.4" cy="672.3" r="0.95"/><circle cx="106.9" cy="674.2" r="0.95"/><circle cx="111.3" cy="676.1" r="0.95"/><circle cx="84.8" cy="661.2" r="0.95"/><circle cx="89.2" cy="663.1" r="0.95"/><circle cx="93.7" cy="664.9" r="0.95"/><circle cx="98.1" cy="666.8" r="0.95"/><circle cx="102.5" cy="668.7" r="0.95"/><circle cx="106.9" cy="670.6" r="0.95"/><circle cx="111.3" cy="672.4" r="0.95"/><circle cx="115.8" cy="674.3" r="0.95"/><circle cx="89.3" cy="659.5" r="0.95"/><circle cx="93.7" cy="661.3" r="0.95"/><circle cx="98.1" cy="663.2" r="0.95"/><circle cx="102.6" cy="665.1" r="0.95"/><circle cx="107.0" cy="667.0" r="0.95"/><circle cx="111.4" cy="668.8" r="0.95"/><circle cx="115.8" cy="670.7" r="0.95"/><circle cx="120.2" cy="672.6" r="0.95"/><circle cx="93.8" cy="657.7" r="0.95"/><circle cx="98.2" cy="659.6" r="0.95"/><circle cx="102.6" cy="661.5" r="0.95"/><circle cx="107.0" cy="663.4" r="0.95"/><circle cx="111.4" cy="665.2" r="0.95"/><circle cx="115.9" cy="667.1" r="0.95"/><circle cx="120.3" cy="669.0" r="0.95"/><circle cx="124.7" cy="670.9" r="0.95"/><circle cx="98.3" cy="656.0" r="0.95"/><circle cx="102.7" cy="657.9" r="0.95"/><circle cx="107.1" cy="659.7" r="0.95"/><circle cx="111.5" cy="661.6" r="0.95"/><circle cx="115.9" cy="663.5" r="0.95"/><circle cx="120.3" cy="665.4" r="0.95"/><circle cx="124.8" cy="667.2" r="0.95"/><circle cx="129.2" cy="669.1" r="0.95"/><circle cx="102.7" cy="654.3" r="0.95"/><circle cx="107.1" cy="656.1" r="0.95"/><circle cx="111.6" cy="658.0" r="0.95"/><circle cx="116.0" cy="659.9" r="0.95"/><circle cx="120.4" cy="661.8" r="0.95"/><circle cx="124.8" cy="663.6" r="0.95"/><circle cx="129.2" cy="665.5" r="0.95"/><circle cx="133.7" cy="667.4" r="0.95"/><circle cx="107.2" cy="652.5" r="0.95"/><circle cx="111.6" cy="654.4" r="0.95"/><circle cx="116.0" cy="656.3" r="0.95"/><circle cx="120.5" cy="658.2" r="0.95"/><circle cx="124.9" cy="660.0" r="0.95"/><circle cx="129.3" cy="661.9" r="0.95"/><circle cx="133.7" cy="663.8" r="0.95"/><circle cx="138.1" cy="665.7" r="0.95"/></g>
<polygon points="30.7,680.0 107.9,650.1 146.0,664.4 67.2,695.5" fill="none" stroke="#222" stroke-width="1.6" stroke-linejoin="round"/>
<polygon points="30.7,680.0 67.2,695.5 146.0,664.4 146.0,666.2 67.2,697.3 30.7,681.8" fill="#1a1a1a"/>
<polygon points="186.0,567.0 267.5,552.8 297.5,564.0 295.7,652.8 267.5,675.3 187.8,643.4" fill="#fff" stroke="#8a8a8a" stroke-width="0.8"/>
<line x1="204.7" y1="566.7" x2="204.7" y2="648.2" stroke="#8a8a8a" stroke-width="0.8"/>
<line x1="220.6" y1="564.0" x2="220.6" y2="654.5" stroke="#8a8a8a" stroke-width="0.8"/>
<line x1="240.9" y1="560.4" x2="240.9" y2="662.7" stroke="#8a8a8a" stroke-width="0.8"/>
<polyline points="243,663.5 243,583 262.5,581 262.5,671.3" fill="none" stroke="#8a8a8a" stroke-width="0.8"/>
<circle cx="245.5" cy="624.5" r="0.9" fill="#555"/>
<line x1="284.4" y1="561" x2="284.4" y2="662" stroke="#8a8a8a" stroke-width="0.8"/>
<rect x="186.8" y="570.0" width="2.8" height="73.0" fill="#f0f0f0" stroke="#626262" stroke-width="0.95"/>
<rect x="266.2" y="555.0" width="4.6" height="120.0" fill="#f0f0f0" stroke="#626262" stroke-width="0.95"/>
<rect x="295.2" y="566.0" width="2.4" height="86.0" fill="#f0f0f0" stroke="#626262" stroke-width="0.95"/>
<polyline points="186.0,567.0 267.5,552.8 297.5,564.0" fill="none" stroke="#666" stroke-width="3.8"/>
<polyline points="186.0,567.0 267.5,552.8 297.5,564.0" fill="none" stroke="#c4c4c4" stroke-width="1.4"/>
<polyline points="187.8,643.4 267.5,675.3 295.7,652.8" fill="none" stroke="#6a6a6a" stroke-width="3.8"/>
<polyline points="187.8,643.4 267.5,675.3 295.7,652.8" fill="none" stroke="#d0d0d0" stroke-width="1.6"/>
<rect x="264.9" y="551.3" width="5.2" height="5.5" fill="#d4d4d4" stroke="#999" stroke-width="0.5"/>
<rect x="264.9" y="671.8" width="5.2" height="5.5" fill="#d4d4d4" stroke="#999" stroke-width="0.5"/>
</g>
<g font-family="Liberation Sans" fill="#5a5a5a">
<text x="36.0" y="210.8" font-size="16" textLength="6.3" lengthAdjust="spacingAndGlyphs">1</text>
<text x="186.8" y="207.3" font-size="16" textLength="6.3" lengthAdjust="spacingAndGlyphs">4</text>
<text x="33.8" y="337.3" font-size="16" textLength="6.3" lengthAdjust="spacingAndGlyphs">2</text>
<text x="189.7" y="377.2" font-size="16" textLength="6.3" lengthAdjust="spacingAndGlyphs">5</text>
<text x="31.4" y="506.7" font-size="16" textLength="6.3" lengthAdjust="spacingAndGlyphs">3</text>
<text x="189.6" y="551.7" font-size="16" textLength="6.3" lengthAdjust="spacingAndGlyphs">6</text>

</g>

<!-- labels -->
<g font-family="Liberation Sans" fill="#b8121e" stroke="#b8121e" stroke-width="0.5">
  <text x="35" y="157" font-size="23.5" stroke-width="0.6" textLength="79" lengthAdjust="spacingAndGlyphs">ASSEMBLY</text>
  <text fill="#c41c28" stroke="#c41c28" x="351" y="114" font-size="10.6" textLength="114" lengthAdjust="spacingAndGlyphs">3D MAP OF HOUSE FUCTIONS</text>
  <text fill="#c41c28" stroke="#c41c28" x="436" y="232.5" font-size="11.4" textLength="95.5" lengthAdjust="spacingAndGlyphs">2 CONTAINER COMBINES</text>
  <text fill="#c41c28" stroke="#c41c28" x="351" y="346" font-size="11.4" textLength="51" lengthAdjust="spacingAndGlyphs">OFFICE ROME</text>
  <text fill="#c41c28" stroke="#c41c28" x="447" y="346" font-size="11.4" textLength="35" lengthAdjust="spacingAndGlyphs">BED ROM</text>
  <text fill="#c41c28" stroke="#c41c28" x="354" y="464" font-size="11.4" textLength="61" lengthAdjust="spacingAndGlyphs">SHOWER ROOM</text>
  <text fill="#c41c28" stroke="#c41c28" x="572" y="209" font-size="11.4" textLength="53" lengthAdjust="spacingAndGlyphs">TOLIET ROOM</text>
  <text fill="#c41c28" stroke="#c41c28" x="571.5" y="331.5" font-size="11.4" textLength="41.5" lengthAdjust="spacingAndGlyphs">BED ROOM</text>
  <text fill="#c41c28" stroke="#c41c28" x="571.5" y="464.5" font-size="11.4" textLength="53" lengthAdjust="spacingAndGlyphs">OFFICE ROOM</text>
  <text x="371" y="545" font-size="24.2" stroke-width="0.5" textLength="90.5" lengthAdjust="spacingAndGlyphs">Advantages:</text>
</g>

<g font-family="Liberation Sans" fill="#111" stroke="#111" stroke-width="0.6" font-size="16.5">
  <text x="366.5" y="579" textLength="217" lengthAdjust="spacingAndGlyphs">1.Ready for use,without any assemble work.</text>
  <text x="366.5" y="606.8" textLength="265.5" lengthAdjust="spacingAndGlyphs">2.Convenient for moving,transporting,water cleaning.</text>
  <text x="366.5" y="634.6" textLength="107" lengthAdjust="spacingAndGlyphs">3.Service life:30 years</text>
  <text x="366.5" y="662.4" textLength="404.5" lengthAdjust="spacingAndGlyphs">4.Good waterproof, sound-insulated,heat preservation,environmental protection.</text>
  <text x="366.5" y="690.2" textLength="172.5" lengthAdjust="spacingAndGlyphs">5.The layout is customized design.</text>
  <text x="366.5" y="718" textLength="323.5" lengthAdjust="spacingAndGlyphs">6.International standard can be put on other shipping container.</text>
  <text x="366.5" y="745.8" textLength="195.5" lengthAdjust="spacingAndGlyphs">7.Beautiful appearance,different colors.</text>
</g>

<!-- frame -->
<rect x="0" y="0" width="800" height="1" fill="#2e4868"/>
<rect x="0" y="0" width="1" height="800" fill="#9a9a9c"/>
<rect x="799" y="0" width="1" height="800" fill="#4a5870"/>
<rect x="0" y="798" width="800" height="1" fill="#4a6a98"/>
<rect x="0" y="799" width="800" height="1" fill="#b0b8d8"/>
</svg>
</body></html>
